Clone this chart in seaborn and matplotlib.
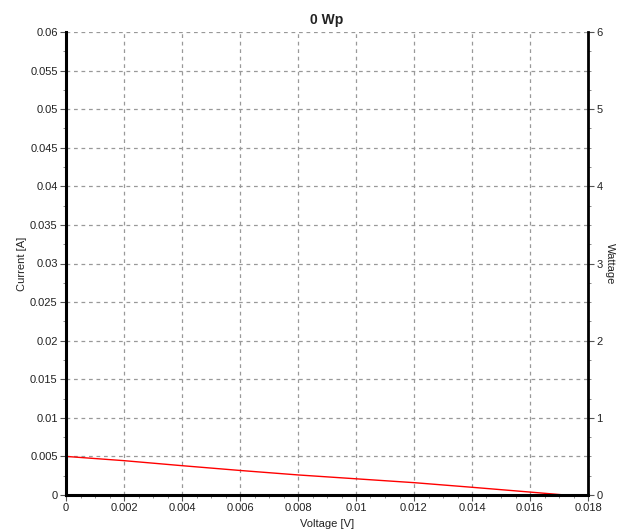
import matplotlib
matplotlib.use("Agg")
import matplotlib.pyplot as plt
import seaborn as sns
import pandas as pd
import numpy as np
from matplotlib.ticker import MultipleLocator, FuncFormatter

voltage = [0.0, 0.002, 0.004, 0.006, 0.008, 0.010, 0.012, 0.014, 0.016, 0.0172]
current = [0.0050, 0.00445, 0.0038, 0.00318, 0.0026, 0.0021, 0.0016, 0.0010, 0.00038, 0.0]

sns.set_theme(style="white")
plt.rcParams['font.family'] = ['Liberation Sans', 'DejaVu Sans']

df = pd.DataFrame({"Voltage": voltage, "Current": current})

fig = plt.figure(figsize=(6.26, 5.32), dpi=100)
ax = fig.add_axes([66/626, 1-495/532, (588-66)/626, (495-32)/532])
sns.lineplot(data=df, x="Voltage", y="Current", ax=ax, color="red", linewidth=1.0)

ax.set_xlim(0, 0.018)
ax.set_ylim(0, 0.06)
ax.xaxis.set_major_locator(MultipleLocator(0.002))
ax.xaxis.set_minor_locator(MultipleLocator(0.0005))
ax.yaxis.set_major_locator(MultipleLocator(0.005))
ax.yaxis.set_minor_locator(MultipleLocator(0.0025))

def fmt(v, pos):
    if abs(v) < 1e-12:
        return "0"
    s = ("%.4f" % v).rstrip("0").rstrip(".")
    return s
ax.xaxis.set_major_formatter(FuncFormatter(fmt))
ax.yaxis.set_major_formatter(FuncFormatter(fmt))

ax.grid(True, which="major", color="#999999", linestyle=(0, (3, 3)), linewidth=0.9)
ax.tick_params(axis="both", which="major", direction="out", length=4, width=0.8, labelsize=8, color="#555555", labelcolor="#222222", pad=2)
ax.tick_params(axis="both", which="minor", direction="out", length=2, width=0.6, color="#777777")
ax.tick_params(axis="x", which="both", bottom=True)
ax.tick_params(axis="y", which="both", left=True)

for side in ["left", "bottom"]:
    ax.spines[side].set_color("black")
    ax.spines[side].set_linewidth(2.2)
ax.spines["top"].set_visible(False)
ax.spines["right"].set_visible(False)

ax.set_xlabel("Voltage [V]", fontsize=8, labelpad=4, color="#222222")
ax.set_ylabel("Current [A]", fontsize=8, labelpad=2, color="#222222")
ax.set_title("0 Wp", fontsize=10, fontweight="bold", pad=6, color="#222222")

ax2 = ax.twinx()
ax2.set_ylim(0, 6)
ax2.yaxis.set_major_locator(MultipleLocator(1))
ax2.yaxis.set_minor_locator(MultipleLocator(0.25))
ax2.tick_params(axis="y", which="major", direction="out", length=4, width=0.8, labelsize=8, color="#555555", labelcolor="#222222", pad=2, right=True)
ax2.tick_params(axis="y", which="minor", direction="out", length=2, width=0.6, color="#777777", right=True)
for side in ["left", "bottom", "top"]:
    ax2.spines[side].set_visible(False)
ax2.spines["right"].set_color("black")
ax2.spines["right"].set_linewidth(2.0)
ax2.set_ylabel("Wattage", fontsize=8, rotation=-90, labelpad=9, color="#222222")

fig.savefig("out.png", dpi=100)
